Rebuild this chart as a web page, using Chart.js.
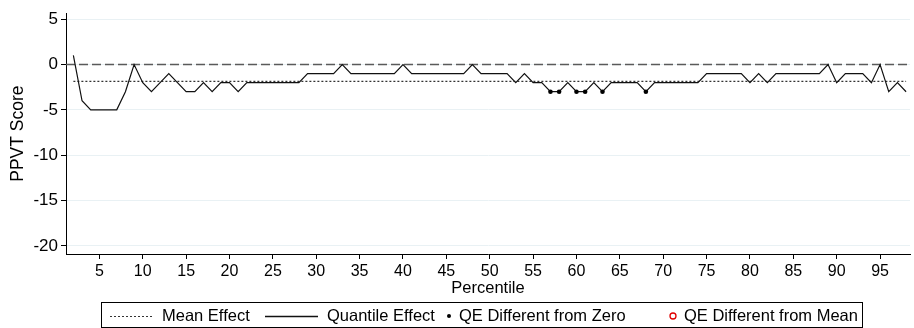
<!DOCTYPE html>
<html>
<head>
<meta charset="utf-8">
<script src="https://cdn.jsdelivr.net/npm/chart.js@4"></script>
<style>
  html, body { margin: 0; padding: 0; background: #fff; }
  #wrap { width: 914px; height: 328px; position: relative; }
</style>
</head>
<body>
<div id="wrap"><canvas id="c" width="914" height="328"></canvas></div>
<script>
// ---- data ----
const PERCENTILES = [];
for (let p = 2; p <= 98; p++) PERCENTILES.push(p);

const QUANTILE_EFFECT = [
  1, -4, -5, -5, -5, -5, -3, 0, -2, -3, -2, -1, -2, -3, -3, -2, -3, -2, -2, -3, // 2-21
  -2, -2, -2, -2, -2, -2, -2,        // 22-28
  -1, -1, -1, -1,                    // 29-32
  0,                                 // 33
  -1, -1, -1, -1, -1, -1,            // 34-39
  0,                                 // 40
  -1, -1, -1, -1, -1, -1, -1,        // 41-47
  0,                                 // 48
  -1, -1, -1, -1,                    // 49-52
  -2, -1, -2, -2, -3, -3, -2, -3, -3, -2, -3, // 53-63
  -2, -2, -2, -2,                    // 64-67
  -3,                                // 68
  -2, -2, -2, -2, -2, -2,            // 69-74
  -1, -1, -1, -1, -1,                // 75-79
  -2, -1, -2,                        // 80-82
  -1, -1, -1, -1, -1, -1,            // 83-88
  0, -2,                             // 89-90
  -1, -1, -1,                        // 91-93
  -2, 0, -3, -2, -3                  // 94-98
];
const MEAN_EFFECT = -1.85;
const ZERO_LINE = 0;
const SIG_FROM_ZERO = [57, 58, 60, 61, 63, 68];
const SIG_FROM_MEAN = [];

const X_TICKS = [5, 10, 15, 20, 25, 30, 35, 40, 45, 50, 55, 60, 65, 70, 75, 80, 85, 90, 95];
const Y_TICKS = [5, 0, -5, -10, -15, -20];
const X_TITLE = 'Percentile';
const Y_TITLE = 'PPVT Score';
const LABELS = ['Mean Effect', 'Quantile Effect', 'QE Different from Zero', 'QE Different from Mean'];

// ---- build library data ----
const quantilePts = PERCENTILES.map((p, i) => ({ x: p, y: QUANTILE_EFFECT[i] }));
const meanPts = PERCENTILES.map(p => ({ x: p, y: MEAN_EFFECT }));
const zeroSig = SIG_FROM_ZERO.map(p => ({ x: p, y: QUANTILE_EFFECT[PERCENTILES.indexOf(p)] }));
const meanSig = SIG_FROM_MEAN.map(p => ({ x: p, y: QUANTILE_EFFECT[PERCENTILES.indexOf(p)] }));

const FONT = "'Liberation Sans', Arial, sans-serif";
const NARROW = "'Liberation Sans Narrow', 'Arial Narrow', 'Liberation Sans', Arial, sans-serif";

const zeroLinePlugin = {
  id: 'zeroLine',
  beforeDatasetsDraw(chart) {
    const { ctx, chartArea, scales } = chart;
    const y = scales.y.getPixelForValue(ZERO_LINE);
    ctx.save();
    ctx.strokeStyle = '#5a5a5a';
    ctx.lineWidth = 1.3;
    ctx.setLineDash([9, 4]);
    ctx.beginPath();
    ctx.moveTo(chartArea.left, y);
    ctx.lineTo(chartArea.right, y);
    ctx.stroke();
    ctx.restore();
  }
};

const boxLegendPlugin = {
  id: 'boxLegend',
  afterDraw(chart) {
    const { ctx } = chart;
    const ds = chart.data.datasets;
    const box = { l: 101.5, t: 302.5, r: 862.5, b: 327.5 };
    const cy = 316;
    ctx.save();
    ctx.fillStyle = '#fff';
    ctx.fillRect(box.l, box.t, box.r - box.l, box.b - box.t);
    ctx.strokeStyle = '#000';
    ctx.lineWidth = 1;
    ctx.strokeRect(box.l, box.t, box.r - box.l, box.b - box.t);
    ctx.font = '16.5px ' + FONT;
    ctx.textBaseline = 'middle';
    ctx.fillStyle = '#000';
    // item 0: mean effect (dotted line)
    ctx.strokeStyle = ds[0].borderColor;
    ctx.lineWidth = 1;
    ctx.setLineDash(ds[0].borderDash);
    ctx.beginPath(); ctx.moveTo(110, cy + 0.5); ctx.lineTo(152, cy + 0.5); ctx.stroke();
    ctx.fillText(ds[0].label, 162, cy);
    // item 1: quantile effect (solid)
    ctx.setLineDash([]);
    ctx.strokeStyle = ds[1].borderColor;
    ctx.lineWidth = 1.3;
    ctx.beginPath(); ctx.moveTo(265, cy + 0.5); ctx.lineTo(318, cy + 0.5); ctx.stroke();
    ctx.fillText(ds[1].label, 327, cy);
    // item 2: filled dot
    ctx.fillStyle = ds[2].backgroundColor;
    ctx.beginPath(); ctx.arc(449, cy, 2, 0, Math.PI * 2); ctx.fill();
    ctx.fillStyle = '#000';
    ctx.fillText(ds[2].label, 459, cy);
    // item 3: red hollow circle
    ctx.strokeStyle = ds[3].borderColor;
    ctx.lineWidth = 1.3;
    ctx.beginPath(); ctx.arc(673, cy, 3, 0, Math.PI * 2); ctx.stroke();
    ctx.fillText(ds[3].label, 684, cy);
    ctx.restore();
  }
};

new Chart(document.getElementById('c'), {
  type: 'scatter',
  data: {
    datasets: [
      { label: LABELS[0], data: meanPts, showLine: true, borderColor: '#333', borderWidth: 1.2,
        borderDash: [2, 2], pointRadius: 0, order: 3 },
      { label: LABELS[1], data: quantilePts, showLine: true, borderColor: '#111', borderWidth: 1.2,
        pointRadius: 0, tension: 0, order: 2 },
      { label: LABELS[2], data: zeroSig, showLine: false, backgroundColor: '#000', borderColor: '#000',
        pointRadius: 2.3, pointBorderWidth: 0, order: 1 },
      { label: LABELS[3], data: meanSig, showLine: false, backgroundColor: '#fff', borderColor: '#e00000',
        pointRadius: 3, pointBorderWidth: 1.3, order: 0 }
    ]
  },
  options: {
    responsive: false,
    animation: false,
    devicePixelRatio: 1,
    layout: { padding: { top: 10, right: 0, bottom: 0, left: 0 } },
    plugins: { legend: { display: false }, tooltip: { enabled: false } },
    scales: {
      x: {
        type: 'linear', min: 1.15, max: 98.45,
        afterBuildTicks: s => { s.ticks = X_TICKS.map(v => ({ value: v })); },
        afterFit: s => { s.height = 74; },
        grid: { drawOnChartArea: false, color: '#000', tickColor: '#000', tickLength: 5, tickWidth: 1 },
        border: { display: true, color: '#000', width: 1 },
        ticks: { color: '#000', font: { family: NARROW, size: 16 }, padding: 3, maxRotation: 0, autoSkip: false },
        title: { display: true, text: X_TITLE, color: '#000', font: { family: FONT, size: 16.5 }, padding: { top: 0, bottom: 30 } }
      },
      y: {
        type: 'linear', min: -20.9, max: 5.66,
        afterBuildTicks: s => { s.ticks = Y_TICKS.map(v => ({ value: v })); },
        afterFit: s => { s.width = 66; },
        grid: { drawOnChartArea: true, color: '#e9f1f4', tickColor: '#000', tickLength: 5, tickWidth: 1 },
        border: { display: true, color: '#000', width: 1 },
        ticks: { color: '#000', font: { family: NARROW, size: 17 }, padding: 3, autoSkip: false },
        title: { display: true, text: Y_TITLE, color: '#000', font: { family: FONT, size: 17.5 }, padding: { top: 7.5, bottom: 0 } }
      }
    }
  },
  plugins: [zeroLinePlugin, boxLegendPlugin]
});
</script>
</body>
</html>
